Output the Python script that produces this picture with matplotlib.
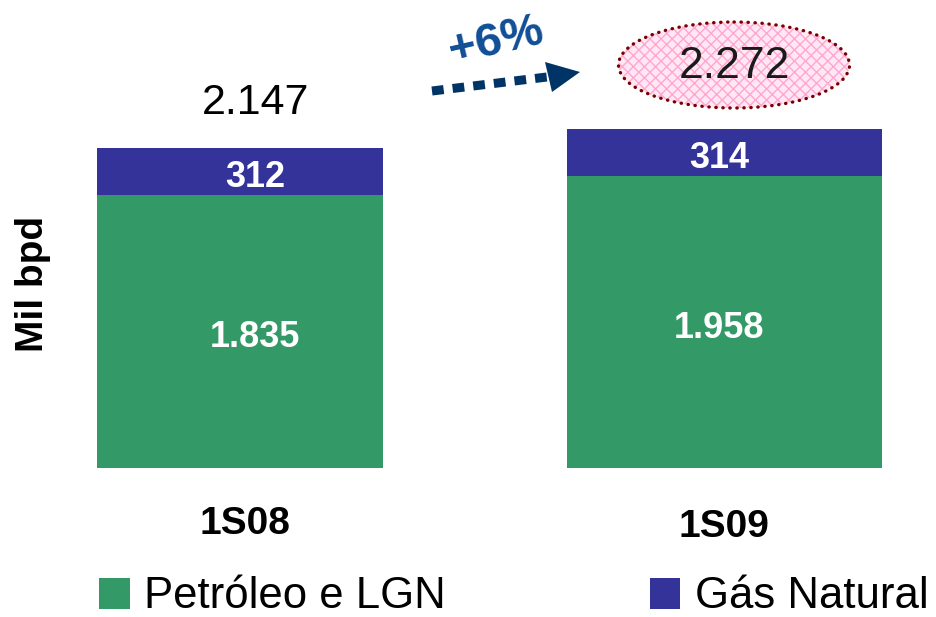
import matplotlib
matplotlib.use("Agg")
import matplotlib.pyplot as plt
from matplotlib.patches import Ellipse, Polygon, Patch

plt.rcParams['font.family'] = ['Liberation Sans', 'DejaVu Sans']

# Production data (thousand barrels per day)
periods = ["1S08", "1S09"]
oil_lgn = [1835, 1958]
natural_gas = [312, 314]
totals = [2147, 2272]
growth_label = "+6%"
series_names = ["Petróleo e LGN", "Gás Natural"]
y_label = "Mil bpd"

def fmt(v):
    return f"{v:,}".replace(",", ".")

GREEN = "#339966"
BLUE = "#333399"

W, H = 937, 617
fig = plt.figure(figsize=(W / 100, H / 100), dpi=100)

# Bar axes: baseline at pixel row 468
px_per_unit = 484.5
units_per_px = 6.71
ax = fig.add_axes([0, (H - 468) / H, 1, 468 / H])
ax.set_xlim(-240 / px_per_unit, (W - 240) / px_per_unit)
ax.set_ylim(0, 468 * units_per_px)
ax.axis("off")

x = [0, 1]
widths = [286 / px_per_unit, 315 / px_per_unit]
ax.bar(x, oil_lgn, width=widths, color=GREEN, linewidth=0)
ax.bar(x, natural_gas, width=widths, bottom=oil_lgn, color=BLUE, linewidth=0)

label_dx = [15 / px_per_unit, -5 / px_per_unit]
label_dy = -6 * units_per_px
for i in range(2):
    ax.text(x[i] + label_dx[i], oil_lgn[i] / 2 + label_dy, fmt(oil_lgn[i]),
            ha="center", va="center", color="white", fontsize=26, fontweight="bold")
    ax.text(x[i] + label_dx[i], oil_lgn[i] + natural_gas[i] / 2 + label_dy,
            fmt(natural_gas[i]), ha="center", va="center", color="white",
            fontsize=26, fontweight="bold")

# Left total above its bar
ax.text(x[0] + 16 / px_per_unit, totals[0] + 45 * units_per_px, fmt(totals[0]),
        ha="center", va="center", fontsize=31, color="black")

# Overlay axes in pixel coordinates for annotations
ov = fig.add_axes([0, 0, 1, 1])
ov.set_xlim(0, W)
ov.set_ylim(H, 0)
ov.axis("off")

# Highlighted total for the second period
plt.rcParams['hatch.linewidth'] = 1.0
ov.add_patch(Ellipse((734, 65), 231, 86, facecolor="#ffe8f3", edgecolor="#ffa6d2",
                     hatch="xxx", linewidth=0))
ov.add_patch(Ellipse((734, 65), 231, 86, facecolor="none", edgecolor="#7a0000",
                     linewidth=2.4, linestyle=(0, (0.1, 2.0)), capstyle="round"))
ov.text(734, 67, fmt(totals[1]), ha="center", va="center", fontsize=32,
        color="#1a1a1a")

# Dashed growth arrow
ov.plot([432, 547], [91, 77], color="#003366", linewidth=6.5,
        dashes=(1.3, 1.0), solid_capstyle="butt", dash_capstyle="butt")
ov.add_patch(Polygon([(545, 62), (552, 92), (580, 72)], closed=True,
                     facecolor="#003366", edgecolor="none"))
ov.text(496, 42, growth_label, ha="center", va="center", fontsize=34,
        fontweight="bold", color="#104e96", rotation=13)

# Category labels
ov.text(245, 524, periods[0], ha="center", va="center", fontsize=28, fontweight="bold")
ov.text(724, 527, periods[1], ha="center", va="center", fontsize=28, fontweight="bold")

# Y label
ov.text(33, 284, y_label, ha="center", va="center", fontsize=28, fontweight="bold",
        rotation=90)

# Legend
handles = [Patch(facecolor=GREEN, edgecolor="none"), Patch(facecolor=BLUE, edgecolor="none")]
fig.legend(handles, series_names, loc="center left",
           bbox_to_anchor=(99 / W, (H - 597) / H), ncol=2, frameon=False,
           fontsize=31.5, handlelength=0.7, handleheight=0.7, handletextpad=0.33,
           columnspacing=4.66, borderpad=0, borderaxespad=0)

fig.savefig("out.png", dpi=100)
